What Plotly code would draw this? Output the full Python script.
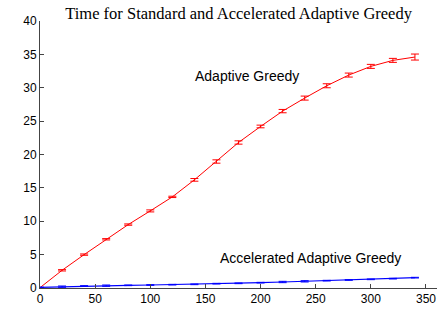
import plotly.graph_objects as go

x = [0, 20, 40, 60, 80, 100, 120, 140, 160, 180, 200, 220, 240, 260, 280, 300, 320, 340]
adaptive = [0.05, 2.65, 5.0, 7.3, 9.5, 11.55, 13.65, 16.2, 18.95, 21.8, 24.2, 26.5, 28.45, 30.3, 31.9, 33.2, 34.1, 34.6]
adaptive_err = [0.02, 0.1, 0.1, 0.1, 0.1, 0.15, 0.1, 0.2, 0.25, 0.25, 0.2, 0.25, 0.3, 0.3, 0.3, 0.3, 0.3, 0.45]
accel = [0.1, 0.2, 0.3, 0.35, 0.4, 0.45, 0.5, 0.55, 0.65, 0.7, 0.8, 0.9, 1.0, 1.1, 1.2, 1.3, 1.4, 1.55]
accel_err = [0.02, 0.1, 0.05, 0.1, 0.05, 0.05, 0.05, 0.05, 0.05, 0.05, 0.05, 0.1, 0.1, 0.05, 0.05, 0.05, 0.05, 0.05]
xticks = [0, 50, 100, 150, 200, 250, 300, 350]
yticks = [0, 5, 10, 15, 20, 25, 30, 35, 40]

fig = go.Figure()
fig.add_trace(go.Scatter(x=x, y=adaptive, mode="lines",
                         line=dict(color="#ff0000", width=1),
                         error_y=dict(type="data", array=adaptive_err, color="#ff0000", thickness=1, width=4)))
fig.add_trace(go.Scatter(x=x, y=accel, mode="lines",
                         line=dict(color="#0000ff", width=1.2),
                         error_y=dict(type="data", array=accel_err, color="#0000ff", thickness=1, width=4)))

fig.add_annotation(x=139, y=31.7, text="Adaptive Greedy", showarrow=False, xanchor="left",
                   font=dict(family="Liberation Sans, Arial", size=14, color="black"))
fig.add_annotation(x=161, y=4.5, text="Accelerated Adaptive Greedy", showarrow=False, xanchor="left",
                   font=dict(family="Liberation Sans, Arial", size=14, color="black"))

fig.update_layout(
    width=437, height=309,
    margin=dict(l=40, r=0, t=21, b=21),
    paper_bgcolor="white", plot_bgcolor="white",
    showlegend=False,
    title=dict(text="Time for Standard and Accelerated Adaptive Greedy",
               font=dict(family="Liberation Serif, Times New Roman", size=16.5, color="black"),
               x=0.546, xanchor="center", y=0.975, yanchor="top"),
    xaxis=dict(range=[0, 360], tickvals=xticks, ticks="inside", ticklen=4, tickcolor="#444",
               showline=True, linecolor="#444", linewidth=1, showgrid=False, zeroline=False,
               tickfont=dict(family="Liberation Sans, Arial", size=12, color="black")),
    yaxis=dict(range=[0, 40], tickvals=yticks, ticks="inside", ticklen=4, tickcolor="#444",
               showline=True, linecolor="#444", linewidth=1, showgrid=False, zeroline=False,
               tickfont=dict(family="Liberation Sans, Arial", size=12, color="black")),
)
fig.write_html("out.html", config={"displayModeBar": False},
               post_script="document.body.style.margin='0px';document.body.style.overflow='hidden';")
